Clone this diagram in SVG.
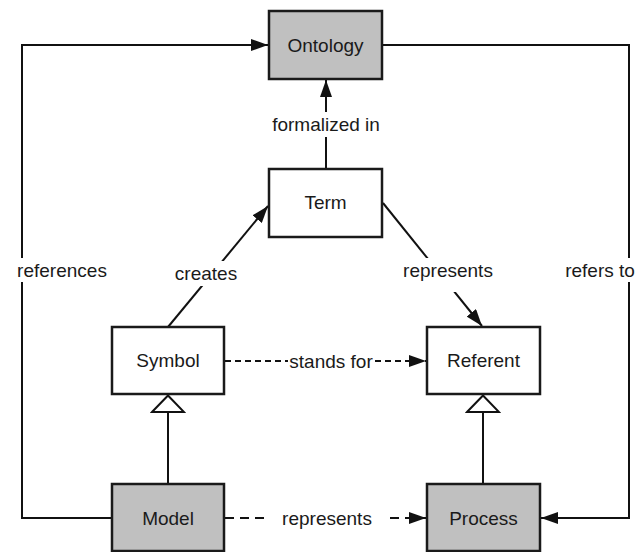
<svg xmlns="http://www.w3.org/2000/svg" width="636" height="552" viewBox="0 0 636 552">
  <defs>
    <style>
      .box { stroke: #1a1a1a; stroke-width: 2.5; }
      .plain { fill: #fff; }
      .shaded { fill: #c0c0c0; }
      .edge { fill: none; stroke: #111; stroke-width: 2; }
      .dash-fine { stroke-dasharray: 6 4; }
      .dash-wide { stroke-dasharray: 9 6; }
      text { font-family: "Liberation Sans", Arial, sans-serif; font-size: 19px; fill: #1a1a1a; text-anchor: middle; dominant-baseline: central; }
    </style>
    <marker id="arrow" viewBox="0 0 17 12" refX="17" refY="6" markerWidth="17" markerHeight="12" markerUnits="userSpaceOnUse" orient="auto">
      <path d="M0,0 L17,6 L0,12 Z" fill="#111"/>
    </marker>
    <marker id="hollow" viewBox="0 0 20 36" refX="19" refY="18" markerWidth="20" markerHeight="36" markerUnits="userSpaceOnUse" orient="auto">
      <path d="M2,2 L18.5,18 L2,34 Z" fill="#fff" stroke="#111" stroke-width="2"/>
    </marker>
  </defs>
  <rect width="636" height="552" fill="#fff"/>

  <!-- connectors -->
  <g id="connectors">
    <!-- Model references Ontology -->
    <polyline class="edge" points="112,518 22,518 22,45 268,45" marker-end="url(#arrow)"/>
    <!-- Ontology refers to Process -->
    <polyline class="edge" points="382,45 629,45 629,518 541,518" marker-end="url(#arrow)"/>
    <!-- Term formalized in Ontology -->
    <line class="edge" x1="326" y1="169" x2="326" y2="80" marker-end="url(#arrow)"/>
    <!-- Symbol creates Term -->
    <line class="edge" x1="168" y1="327" x2="268" y2="206" marker-end="url(#arrow)"/>
    <!-- Term represents Referent -->
    <line class="edge" x1="383" y1="203" x2="482" y2="326" marker-end="url(#arrow)"/>
    <!-- Symbol stands for Referent -->
    <line class="edge dash-fine" x1="225" y1="361" x2="426" y2="361" marker-end="url(#arrow)"/>
    <!-- Model represents Process -->
    <line class="edge dash-wide" x1="225" y1="518" x2="426" y2="518" marker-end="url(#arrow)"/>
    <!-- generalizations -->
    <line class="edge" x1="168" y1="484" x2="168" y2="395" marker-end="url(#hollow)"/>
    <line class="edge" x1="483" y1="484" x2="483" y2="395" marker-end="url(#hollow)"/>

    <!-- edge labels over white backing -->
    <rect x="14" y="258" width="98" height="24" fill="#fff"/>
    <text x="62" y="270">references</text>
    <rect x="562" y="258" width="74" height="24" fill="#fff"/>
    <text x="600" y="270">refers to</text>
    <rect x="270" y="112" width="112" height="25" fill="#fff"/>
    <text x="326" y="124">formalized in</text>
    <rect x="172" y="261" width="68" height="25" fill="#fff"/>
    <text x="206" y="273">creates</text>
    <rect x="402" y="258" width="92" height="34" fill="#fff"/>
    <text x="448" y="270">represents</text>
    <rect x="288" y="349" width="86" height="24" fill="#fff"/>
    <text x="331" y="361">stands for</text>
    <rect x="268" y="506" width="117" height="24" fill="#fff"/>
    <text x="327" y="518">represents</text>
  </g>

  <g id="ontology">
    <rect class="box shaded" x="269" y="11" width="113" height="68"/>
    <text x="325.5" y="45">Ontology</text>
  </g>
  <g id="term">
    <rect class="box plain" x="269" y="169" width="113" height="68"/>
    <text x="325.5" y="202">Term</text>
  </g>
  <g id="symbol">
    <rect class="box plain" x="112" y="327" width="112" height="67"/>
    <text x="168" y="360">Symbol</text>
  </g>
  <g id="referent">
    <rect class="box plain" x="427" y="327" width="113" height="67"/>
    <text x="483.5" y="360">Referent</text>
  </g>
  <g id="model">
    <rect class="box shaded" x="112" y="484" width="112" height="67"/>
    <text x="168" y="518">Model</text>
  </g>
  <g id="process">
    <rect class="box shaded" x="427" y="484" width="113" height="67"/>
    <text x="483.5" y="518">Process</text>
  </g>
</svg>
